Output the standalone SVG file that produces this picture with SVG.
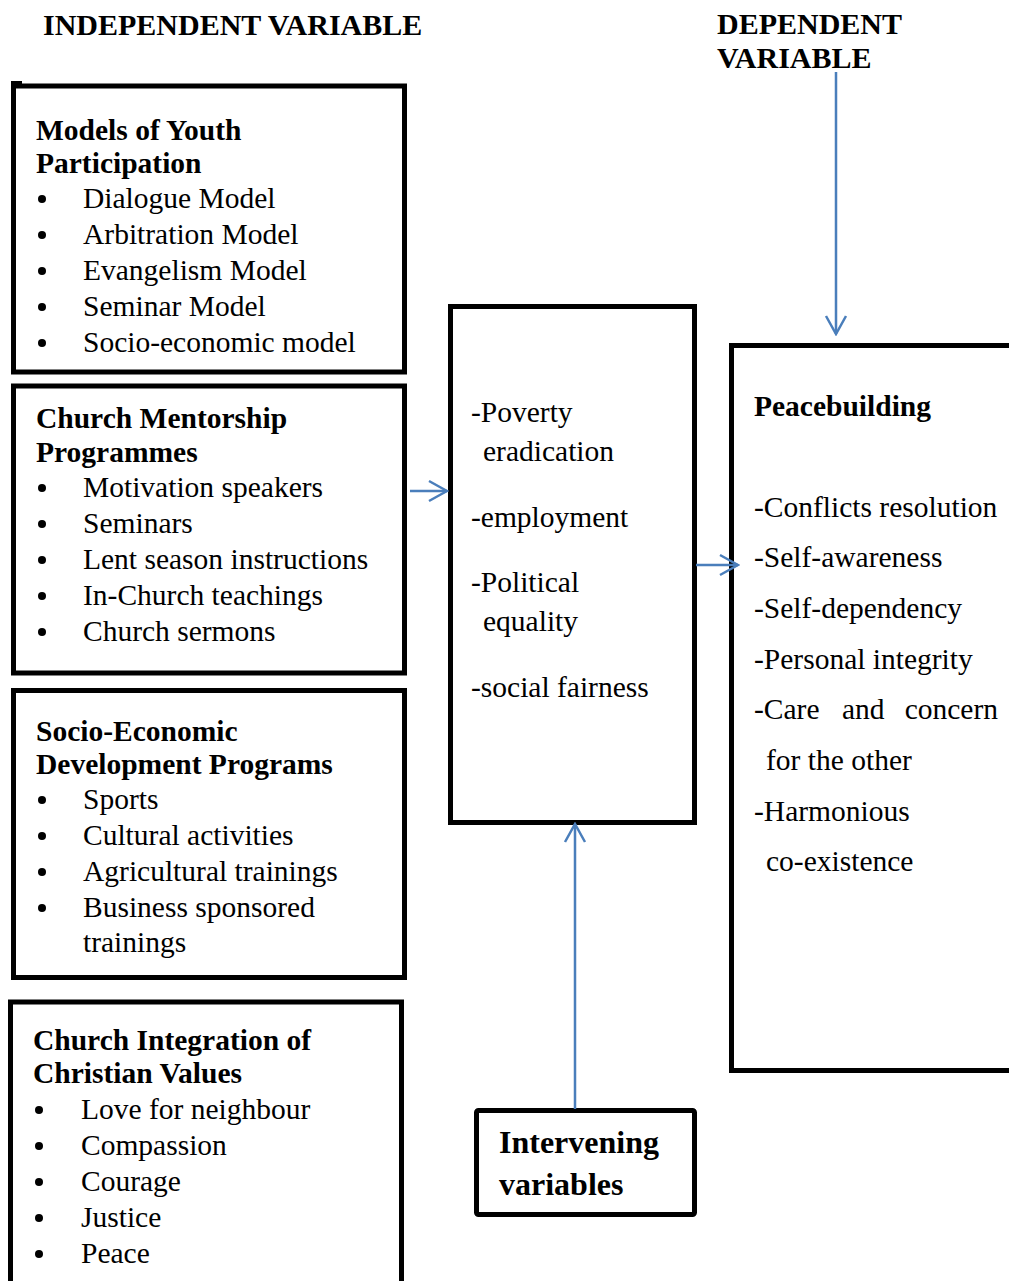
<svg xmlns="http://www.w3.org/2000/svg" width="1009" height="1281" viewBox="0 0 1009 1281">
  <style>
    .box { fill: none; stroke: #000; stroke-width: 5; }
    .t { font-family: "Liberation Serif", "Times New Roman", serif; font-size: 29.5px; fill: #000; }
    .b { font-weight: bold; }
    .hd { font-size: 30px; }
    .big { font-size: 32px; }
    .dot { fill: #000; }
    .link { fill: none; stroke: #4A7EBB; stroke-width: 2.5; }
  </style>
  <defs>
    <marker id="head" markerUnits="userSpaceOnUse" viewBox="0 0 22 24" refX="20" refY="12" markerWidth="22" markerHeight="24" orient="auto">
      <path d="M2,2 L20,12 L2,22" fill="none" stroke="#4A7EBB" stroke-width="2.5"/>
    </marker>
  </defs>
  <rect width="1009" height="1281" fill="#fff"/>

  <!-- headings -->
  <g id="headings">
    <text class="t b hd" x="43" y="35">INDEPENDENT VARIABLE</text>
    <text class="t b hd" x="717" y="34">DEPENDENT</text>
    <text class="t b hd" x="717" y="68">VARIABLE</text>
  </g>

  <!-- Models of Youth Participation -->
  <g id="models">
    <path d="M11,83 H22" stroke="#000" stroke-width="4"/>
    <rect class="box" x="13.5" y="86" width="391" height="286"/>
    <text class="t b" x="36" y="140">Models of Youth</text>
    <text class="t b" x="36" y="173">Participation</text>
    <circle class="dot" cx="42" cy="199" r="4"/><text class="t" x="83" y="208">Dialogue Model</text>
    <circle class="dot" cx="42" cy="235" r="4"/><text class="t" x="83" y="244">Arbitration Model</text>
    <circle class="dot" cx="42" cy="271" r="4"/><text class="t" x="83" y="280">Evangelism Model</text>
    <circle class="dot" cx="42" cy="307" r="4"/><text class="t" x="83" y="316">Seminar Model</text>
    <circle class="dot" cx="42" cy="343" r="4"/><text class="t" x="83" y="352">Socio-economic model</text>
  </g>

  <!-- Church Mentorship Programmes -->
  <g id="mentorship">
    <rect class="box" x="13.5" y="386" width="391" height="287"/>
    <text class="t b" x="36" y="428">Church Mentorship</text>
    <text class="t b" x="36" y="462">Programmes</text>
    <circle class="dot" cx="42" cy="488" r="4"/><text class="t" x="83" y="497">Motivation speakers</text>
    <circle class="dot" cx="42" cy="524" r="4"/><text class="t" x="83" y="533">Seminars</text>
    <circle class="dot" cx="42" cy="560" r="4"/><text class="t" x="83" y="569">Lent season instructions</text>
    <circle class="dot" cx="42" cy="596" r="4"/><text class="t" x="83" y="605">In-Church teachings</text>
    <circle class="dot" cx="42" cy="632" r="4"/><text class="t" x="83" y="641">Church sermons</text>
  </g>

  <!-- Socio-Economic Development Programs -->
  <g id="socioeconomic">
    <rect class="box" x="13.5" y="690.5" width="391" height="287"/>
    <text class="t b" x="36" y="741">Socio-Economic</text>
    <text class="t b" x="36" y="774">Development Programs</text>
    <circle class="dot" cx="42" cy="800" r="4"/><text class="t" x="83" y="809">Sports</text>
    <circle class="dot" cx="42" cy="836" r="4"/><text class="t" x="83" y="845">Cultural activities</text>
    <circle class="dot" cx="42" cy="872" r="4"/><text class="t" x="83" y="881">Agricultural trainings</text>
    <circle class="dot" cx="42" cy="908" r="4"/><text class="t" x="83" y="917">Business sponsored</text>
    <text class="t" x="83" y="952">trainings</text>
  </g>

  <!-- Church Integration of Christian Values -->
  <g id="values">
    <rect class="box" x="10.5" y="1002" width="391" height="300"/>
    <text class="t b" x="33" y="1050">Church Integration of</text>
    <text class="t b" x="33" y="1083">Christian Values</text>
    <circle class="dot" cx="39" cy="1110" r="4"/><text class="t" x="81" y="1119">Love for neighbour</text>
    <circle class="dot" cx="39" cy="1146" r="4"/><text class="t" x="81" y="1155">Compassion</text>
    <circle class="dot" cx="39" cy="1182" r="4"/><text class="t" x="81" y="1191">Courage</text>
    <circle class="dot" cx="39" cy="1218" r="4"/><text class="t" x="81" y="1227">Justice</text>
    <circle class="dot" cx="39" cy="1254" r="4"/><text class="t" x="81" y="1263">Peace</text>
  </g>

  <!-- mediating outcomes -->
  <g id="outcomes">
    <rect class="box" x="450.5" y="306.5" width="244" height="516"/>
    <text class="t" x="471" y="422">-Poverty</text>
    <text class="t" x="483" y="461">eradication</text>
    <text class="t" x="471" y="527">-employment</text>
    <text class="t" x="471" y="592">-Political</text>
    <text class="t" x="483" y="631">equality</text>
    <text class="t" x="471" y="697">-social fairness</text>
  </g>

  <!-- Peacebuilding -->
  <g id="peacebuilding">
    <rect class="box" x="731.5" y="345.5" width="290" height="725"/>
    <text class="t b" x="754" y="416">Peacebuilding</text>
    <text class="t" x="754" y="517">-Conflicts resolution</text>
    <text class="t" x="754" y="567">-Self-awareness</text>
    <text class="t" x="754" y="618">-Self-dependency</text>
    <text class="t" x="754" y="669">-Personal integrity</text>
    <text class="t" x="754" y="719">-Care</text>
    <text class="t" x="842" y="719">and</text>
    <text class="t" x="998" y="719" text-anchor="end">concern</text>
    <text class="t" x="766" y="770">for the other</text>
    <text class="t" x="754" y="821">-Harmonious</text>
    <text class="t" x="766" y="871">co-existence</text>
  </g>

  <!-- Intervening variables -->
  <g id="intervening">
    <rect class="box" x="476.5" y="1110.5" width="218" height="104" rx="2"/>
    <text class="t b big" x="499" y="1153">Intervening</text>
    <text class="t b big" x="499" y="1195">variables</text>
  </g>

  <!-- connectors -->
  <g id="connectors">
    <path class="link" d="M410,491 H447" marker-end="url(#head)"/>
    <path class="link" d="M696,565 H738" marker-end="url(#head)"/>
    <path class="link" d="M836,72 V334" marker-end="url(#head)"/>
    <path class="link" d="M575,1109 V824" marker-end="url(#head)"/>
  </g>
</svg>
